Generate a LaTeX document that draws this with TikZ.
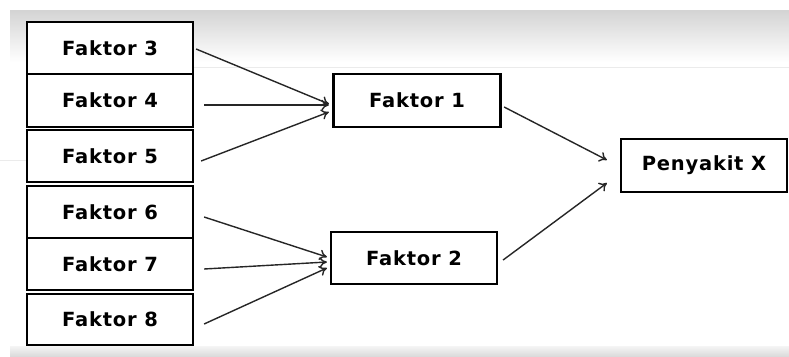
\documentclass[tikz,border=0pt]{standalone}
\usepackage{fontspec}
\setmainfont{DejaVu Sans}[LetterSpace=4]
\usetikzlibrary{arrows.meta,calc}
\begin{document}
\begin{tikzpicture}[x=1pt,y=-1pt,
  box/.style={draw=black,line width=2.2pt,fill=white,inner sep=0pt,
    font=\fontsize{19.5pt}{22pt}\selectfont\bfseries,minimum width=166pt,minimum height=52pt},
  arr/.style={draw=black!85,line width=1.4pt,-{To[length=7.5pt,width=10.5pt]}}]
\useasboundingbox (0,0) rectangle (789,356);
\fill[white] (0,0) rectangle (789,356);
\shade[top color=black!17,bottom color=white] (10,10) rectangle (789,62);
\draw[black!8,line width=0.8pt] (193,67) -- (789,67);
\draw[black!8,line width=0.8pt] (0,160) -- (27,160);
\shade[top color=black!4,bottom color=black!14] (10,346) rectangle (789,356);
\node[box] (f3) at (110,48) {Faktor 3};
\node[box,minimum height=53pt] (f4) at (110,100.5) {Faktor 4};
\node[box] (f5) at (110,156) {Faktor 5};
\node[box] (f6) at (110,212) {Faktor 6};
\node[box] (f7) at (110,264) {Faktor 7};
\node[box,minimum height=51pt] (f8) at (110,319.5) {Faktor 8};
\node[box,minimum width=167pt,minimum height=53pt] (f1) at (417,100.5) {Faktor 1};
\node[box] (f2) at (414,258) {Faktor 2};
\node[box,minimum height=53pt] (px) at (704,165.5) {Penyakit X};
\draw[arr] ($(f3.east)+(2,1)$) -- ($(f1.west)+(-3.5,3.5)$);
\draw[arr] ($(f4.east)+(10,4.5)$) -- ($(f1.west)+(-3.5,4.5)$);
\draw[arr] ($(f5.east)+(7,5)$) -- ($(f1.west)+(-3.5,11.5)$);
\draw[arr] ($(f6.east)+(10,5)$) -- ($(f2.west)+(-3,-1)$);
\draw[arr] ($(f7.east)+(10,5)$) -- ($(f2.west)+(-3,4)$);
\draw[arr] ($(f8.east)+(10,4.5)$) -- ($(f2.west)+(-3,10)$);
\draw[arr] ($(f1.east)+(2.5,6.5)$) -- ($(px.west)+(-13,-5.5)$);
\draw[arr] ($(f2.east)+(5,2)$) -- ($(px.west)+(-13,17.5)$);
\end{tikzpicture}
\end{document}
